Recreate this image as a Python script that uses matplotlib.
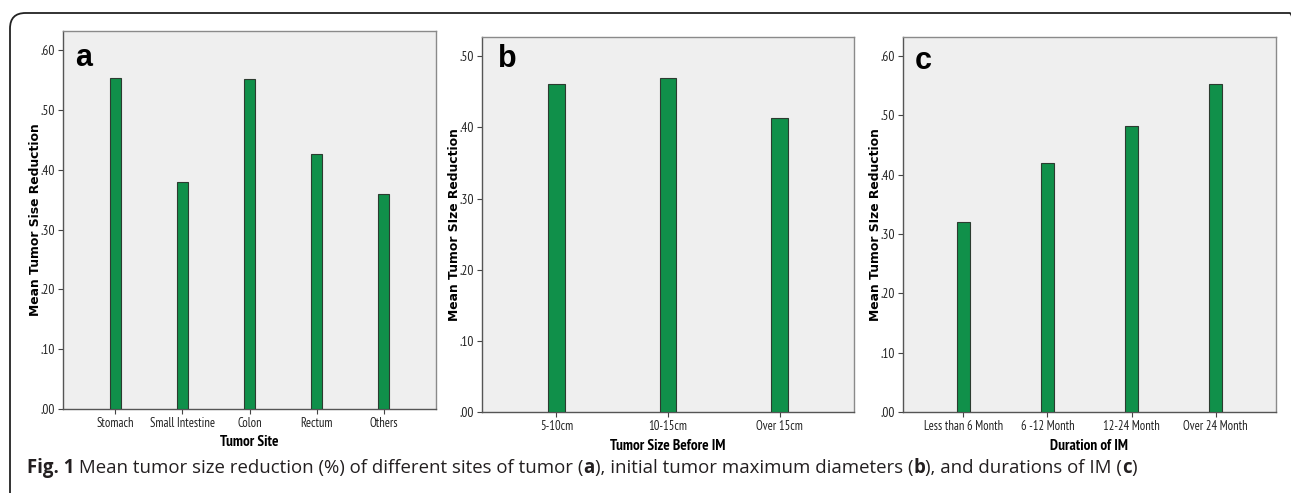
import matplotlib
matplotlib.use("Agg")
import matplotlib.pyplot as plt
from matplotlib.patches import FancyBboxPatch

# Data
site_names = ["Stomach", "Small Intestine", "Colon", "Rectum", "Others"]
site_values = [0.554, 0.379, 0.551, 0.426, 0.360]

size_names = ["5-10cm", "10-15cm", "Over 15cm"]
size_values = [0.461, 0.470, 0.413]

duration_names = ["Less than 6 Month", "6 -12 Month", "12-24 Month", "Over 24 Month"]
duration_values = [0.321, 0.419, 0.482, 0.552]

W, H = 1291, 493
BAR_COLOR = "#10904a"
EDGE_COLOR = "#2c3b30"
BG = "#efefef"
NARROW = ["PT Sans Narrow", "DejaVu Sans"]

fig = plt.figure(figsize=(W / 100, H / 100), dpi=100)


def px_axes(left, right, top, bottom):
    return fig.add_axes([left / W, (H - bottom) / H, (right - left) / W, (bottom - top) / H])


def draw_panel(ax, names, values, ymax, yticks, xlabel, ylabel, letter, xpad, width, letter_xy):
    x = list(range(len(names)))
    ax.bar(x, values, width=width, color=BAR_COLOR, edgecolor=EDGE_COLOR, linewidth=0.8, zorder=3)
    ax.set_facecolor(BG)
    ax.set_xlim(-xpad, len(names) - 1 + xpad)
    ax.set_ylim(0, ymax)
    ax.set_yticks(yticks)
    ax.set_yticklabels([("%.2f" % t)[1:] for t in yticks], family=NARROW, fontsize=9.5, color="#222222")
    ax.set_xticks(x)
    ax.set_xticklabels(names, family=NARROW, fontsize=9, color="#222222")
    ax.tick_params(axis="both", direction="out", length=3.5, width=0.8, color="#444444", pad=2)
    for sp in ax.spines.values():
        sp.set_color("#8a8a8a")
        sp.set_linewidth(1.0)
    ax.spines["left"].set_color("#555555")
    ax.spines["bottom"].set_color("#555555")
    bb = ax.get_position()
    aw, ah = bb.width * W, bb.height * H
    ax.set_xlabel(xlabel, family=NARROW, fontsize=11, fontweight="bold", va="center")
    ax.xaxis.set_label_coords(0.5, -33.5 / ah)
    ax.set_ylabel(ylabel, family="DejaVu Sans", fontsize=8.9, fontweight="bold", va="center")
    ax.yaxis.set_label_coords(-27.5 / aw, 0.5)
    ax.text(letter_xy[0] / aw, 1 - letter_xy[1] / ah, letter, transform=ax.transAxes,
            family="Liberation Sans", fontsize=22, fontweight="bold", va="center", ha="left")


ax_a = px_axes(63, 436, 31, 409)
draw_panel(ax_a, site_names, site_values, 0.632, [0, .1, .2, .3, .4, .5, .6],
           "Tumor Site", "Mean Tumor Sise Reduction", "a", 0.78, 0.16, (12, 27))

ax_b = px_axes(482, 854, 37, 412)
draw_panel(ax_b, size_names, size_values, 0.527, [0, .1, .2, .3, .4, .5],
           "Tumor Size Before IM", "Mean Tumor SIze Reduction", "b", 0.666, 0.15, (16, 22))

ax_c = px_axes(903, 1276, 37, 412)
draw_panel(ax_c, duration_names, duration_values, 0.632, [0, .1, .2, .3, .4, .5, .6],
           "Duration of IM", "Mean Tumor SIze Reduction", "c", 0.72, 0.15, (12, 24))

# rounded frame around the figure (right and bottom run off the image)
frame = FancyBboxPatch((10 / W, -20 / H), 1295 / W, (H - 13 + 20) / H,
                       boxstyle="round,pad=0,rounding_size=0.012",
                       transform=fig.transFigure, fill=False, edgecolor="#222222",
                       linewidth=1.3, mutation_aspect=W / H)
fig.patches.append(frame)

# caption with bold pieces
caption = [("Fig. 1", "bold"), (" Mean tumor size reduction (%) of different sites of tumor (", "normal"),
           ("a", "bold"), ("), initial tumor maximum diameters (", "normal"), ("b", "bold"),
           ("), and durations of IM (", "normal"), ("c", "bold"), (")", "normal")]
renderer = fig.canvas.get_renderer()
xpos = 27
for piece, weight in caption:
    t = fig.text(xpos / W, (H - 468) / H, piece, family="Open Sans", fontsize=13.4,
                 fontweight=weight, va="center", ha="left", color="#231f20")
    bb = t.get_window_extent(renderer)
    xpos += bb.width

fig.savefig("out.png", dpi=100)
